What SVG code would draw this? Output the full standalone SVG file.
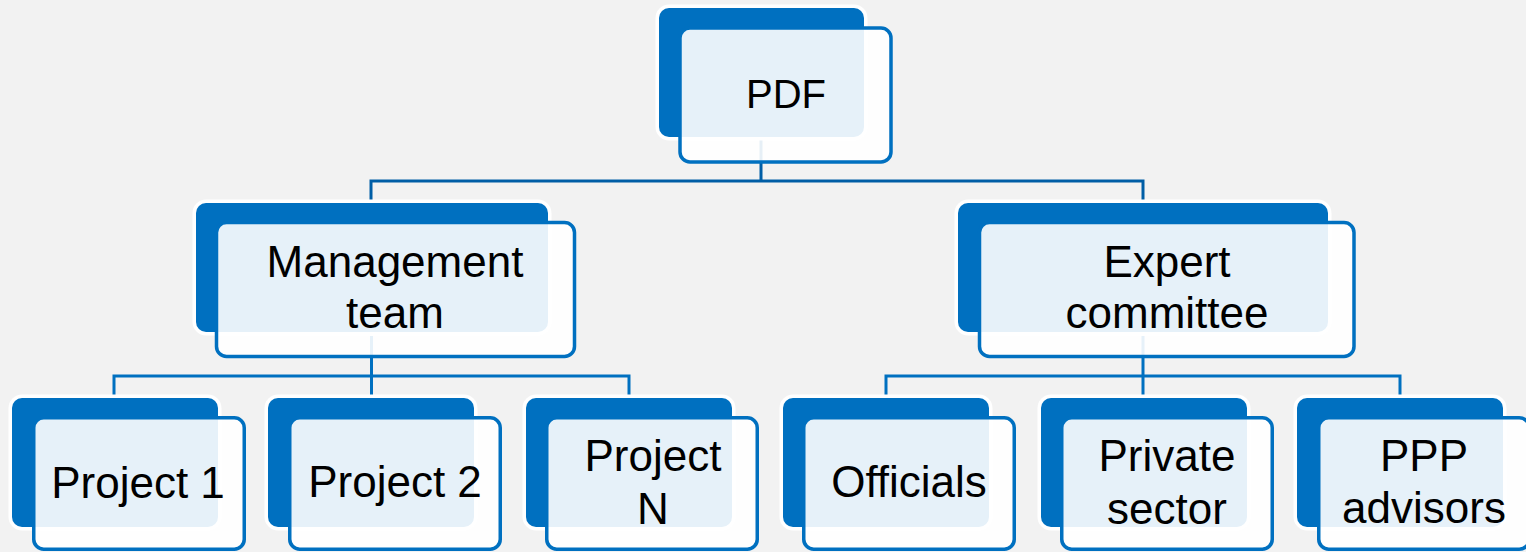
<svg xmlns="http://www.w3.org/2000/svg" width="1526" height="552" viewBox="0 0 1526 552">
  <style>
    .back { fill: #0070C0; stroke: #FFFFFF; stroke-width: 7; paint-order: stroke; }
    .front { fill: #FFFFFF; fill-opacity: 0.9; stroke: #0070C0; stroke-width: 3.5; }
    .lbl { font-family: "Liberation Sans", Arial, sans-serif; font-size: 44px; fill: #000000; text-anchor: middle; }
    .conn { fill: none; stroke: #0070C0; stroke-width: 3; }
    .conn-top { fill: none; stroke: #005EA6; stroke-width: 3; }
  </style>
  <rect x="0" y="0" width="1526" height="552" fill="#F2F2F2"/>

  <g id="connectors">
    <path class="conn-top" d="M761,140 V181 M371,205 V181 H1143 V205"/>
    <path class="conn" d="M371.5,336 V376 M114,400 V376 H629 V400 M371.5,376 V400"/>
    <path class="conn" d="M1143,336 V376 M886,400 V376 H1400 V400 M1143,376 V400"/>
  </g>

  <g id="node-pdf">
    <rect class="back" x="659" y="8" width="205" height="129" rx="10"/>
    <rect class="front" x="680" y="28" width="211" height="134" rx="10"/>
    <text class="lbl" x="786" y="108" style="font-size:40px">PDF</text>
  </g>

  <g id="node-management">
    <rect class="back" x="196" y="203" width="352" height="129" rx="10"/>
    <rect class="front" x="216.5" y="222.5" width="358" height="134" rx="10"/>
    <text class="lbl" x="395" y="277">Management</text>
    <text class="lbl" x="395" y="328">team</text>
  </g>

  <g id="node-expert">
    <rect class="back" x="958" y="203" width="370" height="129" rx="10"/>
    <rect class="front" x="979.5" y="222.5" width="374.5" height="134" rx="10"/>
    <text class="lbl" x="1167" y="277">Expert</text>
    <text class="lbl" x="1167" y="328">committee</text>
  </g>

  <g id="node-project1">
    <rect class="back" x="12" y="398" width="206" height="129" rx="10"/>
    <rect class="front" x="33.75" y="417.75" width="210.5" height="131.5" rx="10"/>
    <text class="lbl" x="138" y="498">Project 1</text>
  </g>

  <g id="node-project2">
    <rect class="back" x="268" y="398" width="206" height="129" rx="10"/>
    <rect class="front" x="289.75" y="417.75" width="210.5" height="131.5" rx="10"/>
    <text class="lbl" x="395" y="497">Project 2</text>
  </g>

  <g id="node-projectN">
    <rect class="back" x="526" y="398" width="206" height="129" rx="10"/>
    <rect class="front" x="546.75" y="417.75" width="210.5" height="131.5" rx="10"/>
    <text class="lbl" x="653" y="471">Project</text>
    <text class="lbl" x="653" y="524">N</text>
  </g>

  <g id="node-officials">
    <rect class="back" x="783" y="398" width="206" height="129" rx="10"/>
    <rect class="front" x="803.75" y="417.75" width="210.5" height="131.5" rx="10"/>
    <text class="lbl" x="909" y="497">Officials</text>
  </g>

  <g id="node-private">
    <rect class="back" x="1041" y="398" width="206" height="129" rx="10"/>
    <rect class="front" x="1061.75" y="417.75" width="210.5" height="131.5" rx="10"/>
    <text class="lbl" x="1167" y="471">Private</text>
    <text class="lbl" x="1167" y="524">sector</text>
  </g>

  <g id="node-ppp">
    <rect class="back" x="1297" y="398" width="206" height="129" rx="10"/>
    <rect class="front" x="1318.75" y="417.75" width="210.5" height="131.5" rx="10"/>
    <text class="lbl" x="1424" y="471">PPP</text>
    <text class="lbl" x="1424" y="523">advisors</text>
  </g>
</svg>
